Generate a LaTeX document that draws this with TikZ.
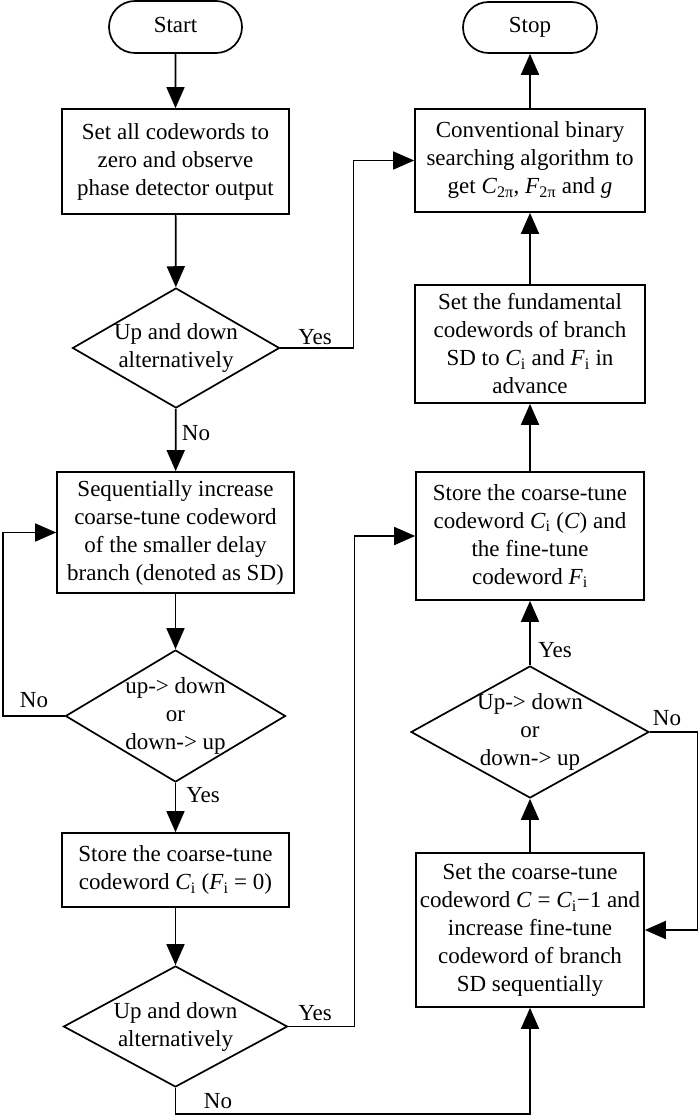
\documentclass[tikz,border=0pt]{standalone}
\usepackage{fontspec}
\setmainfont{Liberation Serif}
\usetikzlibrary{arrows.meta,shapes.geometric,shapes.misc}
\newcommand\sbs[1]{\textsubscript{#1}}
\begin{document}
\begin{tikzpicture}[x=1pt,y=-1pt,
  every node/.style={font=\fontsize{23}{28}\selectfont},
  box/.style={draw, line width=1.7pt, align=center, inner sep=0pt},
  dia/.style={draw, diamond, line width=1.7pt, inner sep=0pt},
  term/.style={draw, rounded rectangle, line width=1.7pt, inner sep=0pt, text height=15pt, text depth=4pt, minimum width=133pt, minimum height=52pt},
  arr/.style={-{Triangle[length=21pt,width=18pt]}, line width=1.7pt},
  txt/.style={align=center, inner sep=0pt}]
\useasboundingbox (0,0) rectangle (700,1115);
% left column
\node[term] (start) at (175.5,27) {Start};
\node[box, minimum width=227pt, minimum height=105pt] (b1) at (175.5,161.5)
  {Set all codewords to\\zero and observe\\phase detector output};
\node[dia, minimum width=207pt, minimum height=120pt] (d1) at (176,348) {};
\node[txt] (d1t) at (d1) {Up and down\\alternatively};
\node[box, minimum width=237pt, minimum height=121pt] (b4) at (175.5,532.5)
  {Sequentially increase\\coarse-tune codeword\\of the smaller delay\\branch (denoted as SD)};
\node[dia, minimum width=220pt, minimum height=132pt] (d2) at (175.5,716) {};
\node[txt] (d2t) at (d2) {up-> down\\or\\down-> up};
\node[box, minimum width=227pt, minimum height=74pt] (b5) at (175.5,870)
  {Store the coarse-tune\\codeword \textit{C}\sbs{i} (\textit{F}\sbs{i} = 0)};
\node[dia, minimum width=224pt, minimum height=121pt] (d3) at (175.5,1026.5) {};
\node[txt] (d3t) at (d3) {Up and down\\alternatively};
% right column
\node[term, minimum width=134pt, minimum height=51pt] (stop) at (530,27.5) {Stop};
\node[box, minimum width=230pt, minimum height=103pt] (b2) at (530,160.5)
  {Conventional binary\\searching algorithm to\\get \textit{C}\sbs{2π}, \textit{F}\sbs{2π} and \textit{g}};
\node[box, minimum width=230pt, minimum height=118pt] (b3) at (530,344)
  {Set the fundamental\\codewords of branch\\SD to \textit{C}\sbs{i} and \textit{F}\sbs{i} in\\advance};
\node[box, minimum width=228pt, minimum height=128pt] (b6) at (530,536)
  {Store the coarse-tune\\codeword \textit{C}\sbs{i} (\textit{C}) and\\the fine-tune\\codeword \textit{F}\sbs{i}};
\node[dia, minimum width=238pt, minimum height=132pt] (d4) at (530,732) {};
\node[txt] (d4t) at (d4) {Up-> down\\or\\down-> up};
\node[box, minimum width=228pt, minimum height=154pt] (b8) at (530,930)
  {Set the coarse-tune\\codeword \textit{C} = \textit{C}\sbs{i}−1 and\\increase fine-tune\\codeword of branch\\SD sequentially};
% connectors
\draw[arr] (start) -- (b1);
\draw[arr] (b1) -- (d1);
\draw[arr] (d1.east) -- ++(73,0) |- (b2.west);
\draw[arr] (d1) -- (b4);
\draw[arr] (b4) -- (d2);
\draw[arr] (d2.west) -- (3,716) |- (b4.west);
\draw[arr] (d2) -- (b5);
\draw[arr] (b5) -- (d3);
\draw[arr] (d3.east) -- ++(66,0) |- (b6.west);
\draw[arr] (d3.south) -- ++(0,26) -| (b8.south);
\draw[arr] (b8) -- (d4);
\draw[arr] (d4) -- (b6);
\draw[arr] (d4.east) -- (697.5,732) |- (b8.east);
\draw[arr] (b6) -- (b3);
\draw[arr] (b3) -- (b2);
\draw[arr] (b2) -- (stop);
% labels
\node (y1) at (315,337) {Yes};
\node (n1) at (196,433) {No};
\node (n2) at (34,700) {No};
\node (y2) at (203,795) {Yes};
\node (y3) at (315,1013) {Yes};
\node (n3) at (218,1101) {No};
\node (y4) at (555,650) {Yes};
\node (n4) at (667,718) {No};
\end{tikzpicture}
\end{document}
